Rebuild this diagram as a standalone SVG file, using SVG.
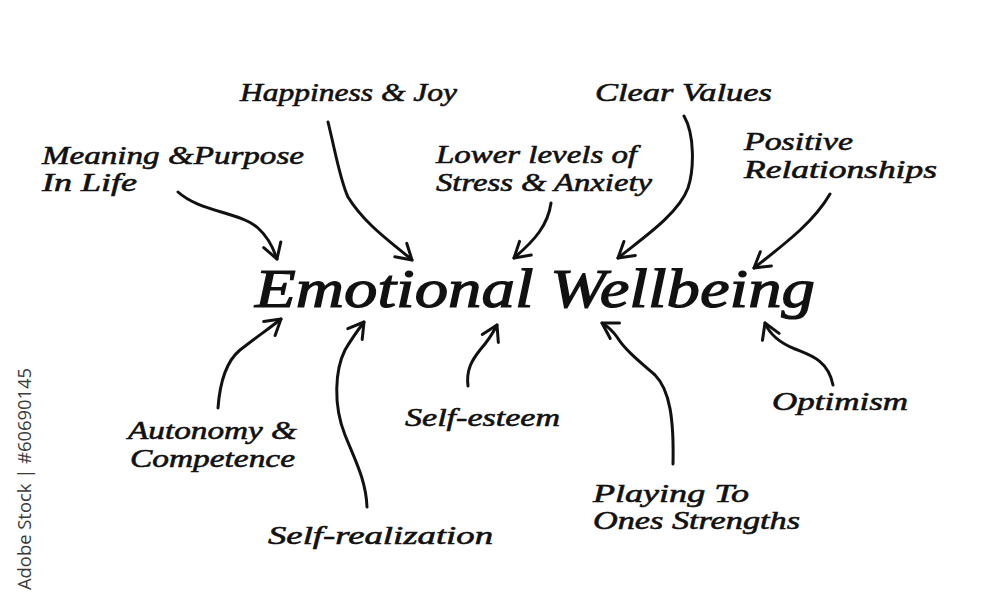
<svg xmlns="http://www.w3.org/2000/svg" width="1000" height="608" viewBox="0 0 1000 608">
<style>
.t{font-family:"Liberation Serif","DejaVu Serif",serif;font-style:italic;font-size:26px;fill:#111;stroke:#111;stroke-width:0.6}
.title{font-size:54px;stroke-width:1.2}
.c{fill:none;stroke:#111;stroke-width:3;stroke-linecap:round;stroke-linejoin:round}
.wm{font-family:"Open Sans","Liberation Sans",sans-serif;font-size:19px;fill:#3a3a3a}
</style>
<defs>
<marker id="ah" markerUnits="userSpaceOnUse" markerWidth="30" markerHeight="30" viewBox="-20 -15 30 30" refX="0" refY="0" orient="auto">
<path d="M-15,-9 L0,0 L-15,9" fill="none" stroke="#111" stroke-width="3" stroke-linecap="round" stroke-linejoin="round"/>
</marker>
</defs>
<rect width="1000" height="608" fill="#fff"/>
<text class="wm" transform="translate(31,590) rotate(-90)" textLength="222" lengthAdjust="spacingAndGlyphs">Adobe Stock | #60690145</text>

<g id="center"><text class="t title" x="255" y="307" textLength="560" lengthAdjust="spacingAndGlyphs">Emotional Wellbeing</text></g>
<g id="happiness"><text class="t" x="240" y="101" textLength="217" lengthAdjust="spacingAndGlyphs">Happiness &amp; Joy</text></g>
<g id="meaning"><text class="t" x="42" y="164" textLength="262" lengthAdjust="spacingAndGlyphs">Meaning &amp;Purpose</text><text class="t" x="42" y="191" textLength="95" lengthAdjust="spacingAndGlyphs">In Life</text></g>
<g id="stress"><text class="t" x="436" y="163" textLength="201" lengthAdjust="spacingAndGlyphs">Lower levels of</text><text class="t" x="436" y="191" textLength="216" lengthAdjust="spacingAndGlyphs">Stress &amp; Anxiety</text></g>
<g id="values"><text class="t" x="595" y="101" textLength="177" lengthAdjust="spacingAndGlyphs">Clear Values</text></g>
<g id="relationships"><text class="t" x="744" y="150" textLength="109" lengthAdjust="spacingAndGlyphs">Positive</text><text class="t" x="744" y="178" textLength="193" lengthAdjust="spacingAndGlyphs">Relationships</text></g>
<g id="autonomy"><text class="t" x="128" y="439" textLength="169" lengthAdjust="spacingAndGlyphs">Autonomy &amp;</text><text class="t" x="130" y="467" textLength="165" lengthAdjust="spacingAndGlyphs">Competence</text></g>
<g id="selfrealization"><text class="t" x="268" y="544" textLength="225" lengthAdjust="spacingAndGlyphs">Self-realization</text></g>
<g id="selfesteem"><text class="t" x="405" y="426" textLength="155" lengthAdjust="spacingAndGlyphs">Self-esteem</text></g>
<g id="strengths"><text class="t" x="593" y="502" textLength="156" lengthAdjust="spacingAndGlyphs">Playing To</text><text class="t" x="593" y="529" textLength="207" lengthAdjust="spacingAndGlyphs">Ones Strengths</text></g>
<g id="optimism"><text class="t" x="772" y="410" textLength="136" lengthAdjust="spacingAndGlyphs">Optimism</text></g>

<g id="connectors" class="c" marker-end="url(#ah)">
<path class="c" marker-end="url(#ah)" d="M178,192 C200,212 240,212 258,228 C268,237 274,250 277,259"/>
<path class="c" marker-end="url(#ah)" d="M328,122 C335,150 340,180 348,197 C365,225 395,245 412,260"/>
<path class="c" marker-end="url(#ah)" d="M551,203 C548,225 535,240 514,258"/>
<path class="c" marker-end="url(#ah)" d="M684,116 C695,135 694,170 688,188 C678,215 640,240 618,258"/>
<path class="c" marker-end="url(#ah)" d="M830,194 C815,220 790,240 754,268"/>
<path class="c" marker-end="url(#ah)" d="M218,408 C220,380 228,360 240,350 C255,338 270,328 281,319"/>
<path class="c" marker-end="url(#ah)" d="M367,507 C366,480 355,460 345,435 C333,405 335,370 345,350 C352,338 358,330 364,322"/>
<path class="c" marker-end="url(#ah)" d="M468,386 C466,370 472,360 480,350 C487,342 493,333 497,325"/>
<path class="c" marker-end="url(#ah)" d="M673,464 C674,420 670,390 655,375 C640,362 625,350 617,337 C612,330 607,326 602,323"/>
<path class="c" marker-end="url(#ah)" d="M833,385 C828,360 810,355 795,349 C780,343 770,335 765,323"/>
</g>
</svg>
